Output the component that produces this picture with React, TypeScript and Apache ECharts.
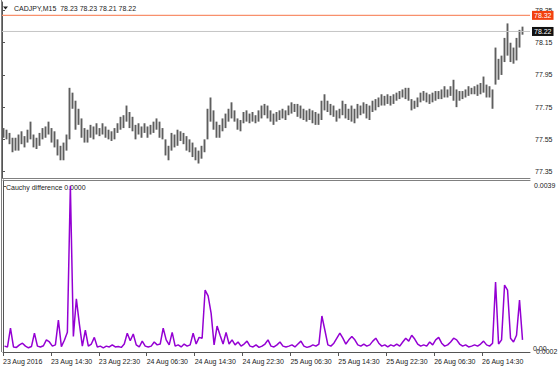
import React, { useEffect, useRef } from "react";
import * as echarts from "echarts";

const SYMBOL_TITLE = "CADJPY,M15  78.23 78.23 78.21 78.22";
const INDICATOR_TITLE = "Cauchy difference 0.0000";
const TIME_LABELS = [
  "23 Aug 2016", "23 Aug 14:30", "23 Aug 22:30", "24 Aug 06:30", "24 Aug 14:30",
  "24 Aug 22:30", "25 Aug 06:30", "25 Aug 14:30", "25 Aug 22:30", "26 Aug 06:30", "26 Aug 14:30",
];
const TIME_TICK_INDEX = [0, 16, 32, 48, 64, 80, 96, 112, 128, 144, 160];
const PRICE_TICKS = [77.35, 77.55, 77.75, 77.95, 78.15, 78.35];
const ASK = 78.32;
const BID = 78.22;

const BAR_HIGH = [
  77.62, 77.61, 77.59, 77.56, 77.56, 77.58, 77.60, 77.57, 77.61, 77.66,
  77.58, 77.56, 77.59, 77.62, 77.63, 77.66, 77.62, 77.60, 77.55, 77.51,
  77.53, 77.58, 77.87, 77.84, 77.79, 77.74, 77.68, 77.62, 77.61, 77.64,
  77.63, 77.65, 77.62, 77.65, 77.63, 77.61, 77.60, 77.62, 77.65, 77.69,
  77.70, 77.76, 77.72, 77.69, 77.64, 77.65, 77.63, 77.65, 77.63, 77.64,
  77.66, 77.68, 77.66, 77.62, 77.55, 77.51, 77.59, 77.58, 77.61, 77.60,
  77.59, 77.57, 77.55, 77.53, 77.50, 77.48, 77.51, 77.55, 77.74, 77.81,
  77.73, 77.66, 77.64, 77.68, 77.71, 77.74, 77.78, 77.73, 77.68, 77.67,
  77.72, 77.73, 77.71, 77.72, 77.70, 77.73, 77.76, 77.77, 77.76, 77.73,
  77.71, 77.72, 77.73, 77.74, 77.73, 77.76, 77.78, 77.77, 77.77, 77.76,
  77.74, 77.73, 77.74, 77.73, 77.72, 77.71, 77.79, 77.83, 77.79, 77.77,
  77.76, 77.73, 77.74, 77.79, 77.77, 77.74, 77.76, 77.74, 77.77, 77.76,
  77.78, 77.77, 77.76, 77.79, 77.80, 77.81, 77.83, 77.82, 77.83, 77.82,
  77.83, 77.84, 77.85, 77.86, 77.87, 77.87, 77.80, 77.79, 77.81, 77.84,
  77.85, 77.84, 77.83, 77.84, 77.85, 77.85, 77.86, 77.88, 77.86, 77.88,
  77.92, 77.86, 77.85, 77.85, 77.86, 77.88, 77.87, 77.88, 77.89, 77.90,
  77.94, 77.89, 77.88, 77.86, 78.12, 78.05, 78.07, 78.18, 78.27, 78.15,
  78.12, 78.18, 78.23, 78.25,
];

const BAR_LOW = [
  77.56, 77.55, 77.52, 77.47, 77.48, 77.48, 77.52, 77.50, 77.53, 77.55,
  77.50, 77.49, 77.51, 77.55, 77.56, 77.58, 77.53, 77.50, 77.45, 77.42,
  77.42, 77.48, 77.55, 77.74, 77.61, 77.64, 77.56, 77.53, 77.53, 77.56,
  77.55, 77.58, 77.57, 77.58, 77.56, 77.55, 77.54, 77.55, 77.59, 77.61,
  77.62, 77.66, 77.62, 77.60, 77.55, 77.58, 77.56, 77.59, 77.56, 77.58,
  77.59, 77.61, 77.56, 77.55, 77.45, 77.42, 77.48, 77.50, 77.51, 77.54,
  77.52, 77.48, 77.47, 77.44, 77.42, 77.40, 77.43, 77.47, 77.55, 77.66,
  77.61, 77.56, 77.56, 77.60, 77.62, 77.66, 77.68, 77.66, 77.61, 77.60,
  77.65, 77.66, 77.65, 77.66, 77.65, 77.66, 77.68, 77.70, 77.68, 77.66,
  77.64, 77.66, 77.67, 77.68, 77.67, 77.70, 77.71, 77.72, 77.69, 77.68,
  77.67, 77.66, 77.67, 77.65, 77.64, 77.64, 77.67, 77.73, 77.72, 77.70,
  77.69, 77.66, 77.68, 77.70, 77.68, 77.67, 77.66, 77.65, 77.68, 77.70,
  77.71, 77.68, 77.67, 77.72, 77.73, 77.75, 77.76, 77.76, 77.77, 77.76,
  77.77, 77.79, 77.80, 77.81, 77.80, 77.79, 77.73, 77.74, 77.75, 77.78,
  77.79, 77.78, 77.77, 77.78, 77.79, 77.80, 77.80, 77.81, 77.81, 77.82,
  77.79, 77.75, 77.79, 77.80, 77.81, 77.82, 77.83, 77.83, 77.82, 77.83,
  77.84, 77.81, 77.81, 77.74, 77.89, 77.92, 77.95, 78.03, 78.07, 78.03,
  78.02, 78.04, 78.12, 78.20,
];

const CAUCHY = [
  0.00007, 0.00005, 0.0005, 0.00005, 0.00004, 0.0001, 0.00014, 0.00007, 0.00003, 0.00006,
  0.00038, 0.00007, 0.00005, 0.00008, 0.00022, 0.00017, 0.00007, 0.0001, 0.00069, 0.00006,
  0.00021, 0.0004, 0.0039, 0.0003, 0.0012, 0.0006, 0.00007, 0.00045, 0.00007, 0.00012,
  0.00028, 0.00005, 0.00007, 0.00003, 0.00007, 0.00005, 0.0001, 0.00005, 0.00006, 0.00004,
  0.00012, 0.00038, 0.0002, 0.00036, 0.0001, 0.00005, 0.00019, 0.00007, 0.00005, 0.00007,
  0.00017, 0.0001, 0.00012, 0.0005, 0.00022, 0.0001, 0.0004, 0.00007, 0.0001, 0.00005,
  0.00012, 0.00007, 0.0001, 0.00038, 0.00012, 0.00028, 0.00026, 0.00141, 0.00127, 0.00086,
  0.0001, 0.00055, 0.00033, 0.00012, 0.0004, 0.00012, 0.00022, 0.0001, 0.00017, 0.00007,
  0.00012, 0.00019, 0.00007, 0.00005, 0.0001, 0.00004, 0.00007, 0.00012, 0.00022, 0.00007,
  0.00005, 0.0001, 0.00017, 0.00007, 0.00005, 0.00007, 0.0001, 0.00005, 0.00012, 0.00019,
  0.00007, 0.00004, 0.00006, 0.0001, 0.00007, 0.00012, 0.00079, 0.00045, 0.0001, 0.00007,
  0.00014, 0.00026, 0.00038, 0.00026, 0.00012, 0.00022, 0.0003, 0.00022, 0.0001, 0.00007,
  0.00012, 0.00007, 0.0001, 0.00019, 0.00026, 0.00014, 0.00007, 0.0001, 0.00005, 0.0001,
  0.00007, 0.00012, 0.00007, 0.00017, 0.00026, 0.00019, 0.00033, 0.00024, 0.00012, 0.00007,
  0.0001, 0.00007, 0.00017, 0.0001, 0.00022, 0.00028, 0.00014, 0.00007, 0.0001, 0.00017,
  0.00026, 0.00022, 0.00012, 0.00007, 0.0001, 0.00005, 0.00007, 0.0001, 0.00007, 0.00012,
  0.00019, 0.0001, 0.00007, 0.00014, 0.0016, 0.00012, 0.00022, 0.00153, 0.00141, 0.00026,
  0.00017, 0.00033, 0.00117, 0.00022,
];

const FONT = "'Liberation Sans', Arial, sans-serif";
const X_MAX = 176;

export default function App() {
  const ref = useRef<HTMLDivElement>(null);
  useEffect(() => {
    if (!ref.current) return;
    const chart = echarts.init(ref.current, undefined, { renderer: "svg" });
    const barData = BAR_HIGH.map((h, i) => [i + 0.5, BAR_LOW[i], h]);
    const cauchyData = CAUCHY.map((v, i) => [i + 0.5, v]);
    const textStyle = { fontFamily: FONT, fontSize: 7, color: "#222" };
    chart.setOption({
      animation: false,
      backgroundColor: "#ffffff",
      grid: [
        { left: 2, right: 30, top: 2, height: 176 },
        { left: 2, right: 30, top: 180, height: 172 },
      ],
      xAxis: [
        {
          type: "value", gridIndex: 0, min: 0, max: X_MAX,
          axisLine: { show: true, onZero: false, lineStyle: { color: "#808080", width: 1 } },
          axisTick: { show: false }, axisLabel: { show: false }, splitLine: { show: false },
        },
        {
          type: "value", gridIndex: 1, min: 0, max: X_MAX, position: "bottom",
          axisLine: { show: true, onZero: false, lineStyle: { color: "#555", width: 1 } },
          axisTick: { show: true, customValues: TIME_TICK_INDEX, length: 4, lineStyle: { color: "#555" } },
          axisLabel: {
            show: true, customValues: TIME_TICK_INDEX, align: "left", margin: 6,
            ...textStyle,
            formatter: (v: number) => {
              const k = TIME_TICK_INDEX.indexOf(Math.round(v));
              return k >= 0 ? TIME_LABELS[k] : "";
            },
          },
          splitLine: { show: false },
        },
        {
          type: "value", gridIndex: 1, min: 0, max: X_MAX, position: "top",
          axisLine: { show: true, onZero: false, lineStyle: { color: "#808080", width: 1 } },
          axisTick: { show: false }, axisLabel: { show: false }, splitLine: { show: false },
        },
      ],
      yAxis: [
        {
          type: "value", gridIndex: 0, position: "right", min: 77.31, max: 78.403,
          axisLine: { show: true, lineStyle: { color: "#555" } },
          axisTick: { show: true, customValues: PRICE_TICKS, length: 3, lineStyle: { color: "#555" } },
          axisLabel: {
            show: true, customValues: PRICE_TICKS, margin: 5, ...textStyle,
            formatter: (v: number) => v.toFixed(2),
          },
          splitLine: { show: false },
        },
        {
          type: "value", gridIndex: 1, position: "right", min: -0.00007, max: 0.00404,
          axisLine: { show: true, lineStyle: { color: "#555" } },
          axisTick: { show: true, customValues: [0.0039], length: 3, lineStyle: { color: "#555" } },
          axisLabel: {
            show: true, customValues: [0.0039], margin: 4, ...textStyle,
            formatter: (v: number) => v.toFixed(4),
          },
          splitLine: { show: false },
        },
      ],
      series: [
        {
          type: "line", xAxisIndex: 0, yAxisIndex: 0, symbol: "none", silent: true,
          data: [[0, BID], [X_MAX, BID]],
          lineStyle: { color: "#c4c4c4", width: 1 },
          endLabel: {
            show: true, formatter: BID.toFixed(2), backgroundColor: "#111", color: "#fff",
            padding: [1, 2, 1, 2], distance: 2, fontFamily: FONT, fontSize: 7,
          },
        },
        {
          type: "line", xAxisIndex: 0, yAxisIndex: 0, symbol: "none", silent: true,
          data: [[0, ASK], [X_MAX, ASK]],
          lineStyle: { color: "#f8906c", width: 1.4 },
          endLabel: {
            show: true, formatter: ASK.toFixed(2), backgroundColor: "#f2400f", color: "#fff",
            padding: [1, 2, 1, 2], distance: 2, fontFamily: FONT, fontSize: 7,
          },
        },
        {
          type: "custom", xAxisIndex: 0, yAxisIndex: 0,
          data: barData,
          encode: { x: 0, y: [1, 2] },
          renderItem: (_p: any, api: any) => {
            const x = api.value(0);
            const a = api.coord([x, api.value(1)]);
            const b = api.coord([x, api.value(2)]);
            return {
              type: "line",
              shape: { x1: a[0], y1: a[1], x2: b[0], y2: b[1] },
              style: { stroke: "#5e5e5e", lineWidth: 1.9 },
            };
          },
        },
        {
          type: "line", xAxisIndex: 1, yAxisIndex: 1, symbol: "none",
          data: cauchyData,
          lineStyle: { color: "#9400d3", width: 1.5 },
        },
      ],
      graphic: [
        { type: "line", shape: { x1: 1.5, y1: 0, x2: 1.5, y2: 352 }, style: { stroke: "#808080", lineWidth: 1 } },
        { type: "polygon", shape: { points: [[3, 6.5], [8, 6.5], [5.5, 9.5]] }, style: { fill: "#222" } },
        { type: "text", x: 14, y: 8, style: { text: SYMBOL_TITLE, font: `7px ${FONT}`, fill: "#222", verticalAlign: "middle" } },
        { type: "text", x: 6, y: 187, style: { text: INDICATOR_TITLE, font: `7px ${FONT}`, fill: "#222", verticalAlign: "middle" } },
        { type: "text", x: 533, y: 348, style: { text: "0.00", font: `7px ${FONT}`, fill: "#222", verticalAlign: "middle" } },
        { type: "text", x: 536, y: 351, style: { text: "0.0002", font: `7px ${FONT}`, fill: "#222", verticalAlign: "middle" } },
      ],
    });
    return () => chart.dispose();
  }, []);
  return (
    <div
      ref={ref}
      style={{ position: "absolute", left: 0, top: 0, width: 560, height: 373, background: "#fff" }}
    />
  );
}
